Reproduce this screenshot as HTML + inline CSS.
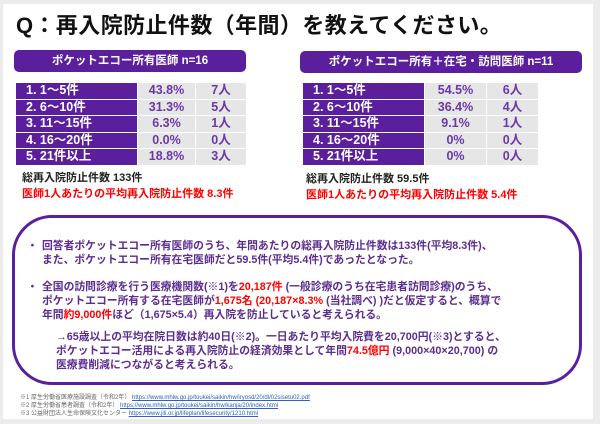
<!DOCTYPE html>
<html><head><meta charset="utf-8"><style>
*{margin:0;padding:0;box-sizing:border-box}
body{width:600px;height:424px;background:#ececec;position:relative;overflow:hidden;font-family:"Liberation Sans","Noto Sans CJK JP",sans-serif}
.slide{position:absolute;left:3px;top:4px;width:590px;height:415px;background:#fff}
.a{position:absolute;white-space:nowrap}
.title{left:16px;top:8px;font-size:22px;letter-spacing:0.4px;font-weight:bold;color:#111}
.hdr{position:absolute;height:22px;background:#5b1f9e;border-radius:5px;color:#fff;font-weight:bold;font-size:11.5px;text-align:center;line-height:22px}
table{position:absolute;border-collapse:separate;border-spacing:1px;font-size:12.5px;font-weight:bold}
td{height:15.5px;line-height:15.5px;padding:0}
td.l{background:#5b1f9e;color:#fff;padding-left:10px}
td.g{background:#e6e6e6;color:#6a3aa8;text-align:center}
.s{font-size:11px;font-weight:bold;color:#222}
.r{color:#f00}
.box{position:absolute;left:12px;top:215px;width:570px;height:170px;border:3px solid #5b1f9e;border-radius:40px}
.t{font-size:10.8px;font-weight:bold;color:#5b2d90}
.red{color:#f00}
.f{font-size:6px;color:#666}
.f span{color:#3060c0;text-decoration:underline}
</style></head><body>
<div class="slide"></div>
<div class="a title">Q：再入院防止件数（年間）を教えてください。</div>
<div class="hdr" style="left:14px;top:50px;width:232px">ポケットエコー所有医師 n=16</div>
<table style="left:15px;top:82px;width:232px">
<tr><td class="l" style="width:121px">1. 1～5件</td><td class="g" style="width:57px">43.8%</td><td class="g">7人</td></tr>
<tr><td class="l">2. 6～10件</td><td class="g">31.3%</td><td class="g">5人</td></tr>
<tr><td class="l">3. 11～15件</td><td class="g">6.3%</td><td class="g">1人</td></tr>
<tr><td class="l">4. 16～20件</td><td class="g">0.0%</td><td class="g">0人</td></tr>
<tr><td class="l">5. 21件以上</td><td class="g">18.8%</td><td class="g">3人</td></tr>
</table>
<div class="a s" style="left:22px;top:169px">総再入院防止件数 133件</div>
<div class="a s r" style="left:22px;top:185px">医師1人あたりの平均再入院防止件数 8.3件</div>
<div class="hdr" style="left:300px;top:51px;width:282px">ポケットエコー所有＋在宅・訪問医師 n=11</div>
<table style="left:302px;top:82px;width:237px">
<tr><td class="l" style="width:121px">1. 1～5件</td><td class="g" style="width:61px">54.5%</td><td class="g">6人</td></tr>
<tr><td class="l">2. 6～10件</td><td class="g">36.4%</td><td class="g">4人</td></tr>
<tr><td class="l">3. 11～15件</td><td class="g">9.1%</td><td class="g">1人</td></tr>
<tr><td class="l">4. 16～20件</td><td class="g">0%</td><td class="g">0人</td></tr>
<tr><td class="l">5. 21件以上</td><td class="g">0%</td><td class="g">0人</td></tr>
</table>
<div class="a s" style="left:306px;top:170px">総再入院防止件数 59.5件</div>
<div class="a s r" style="left:306px;top:186px">医師1人あたりの平均再入院防止件数 5.4件</div>
<div class="box"></div>
<div class="a t" style="left:27px;top:237px">・</div>
<div class="a t" style="left:42px;top:237px">回答者ポケットエコー所有医師のうち、年間あたりの総再入院防止件数は133件(平均8.3件)、</div>
<div class="a t" style="left:42px;top:251px">また、ポケットエコー所有在宅医師だと59.5件(平均5.4件)であったとなった。</div>
<div class="a t" style="left:27px;top:278px">・</div>
<div class="a t" style="left:42px;top:278px">全国の訪問診療を行う医療機関数(※1)を<span class="red">20,187件</span> (一般診療のうち在宅患者訪問診療)のうち、</div>
<div class="a t" style="left:42px;top:292px">ポケットエコー所有する在宅医師が<span class="red">1,675名 (20,187×8.3%</span> (当社調べ) )だと仮定すると、概算で</div>
<div class="a t" style="left:42px;top:306px">年間<span class="red">約9,000件</span>ほど（1,675×5.4）再入院を防止していると考えられる。</div>
<div class="a t" style="left:56px;top:328px">→65歳以上の平均在院日数は約40日(※2)。一日あたり平均入院費を20,700円(※3)とすると、</div>
<div class="a t" style="left:56px;top:342px">ポケットエコー活用による再入院防止の経済効果として年間<span class="red">74.5億円</span> (9,000×40×20,700) の</div>
<div class="a t" style="left:56px;top:356px">医療費削減につながると考えられる。</div>
<div class="a f" style="left:20px;top:392px">※1 厚生労働省医療施設調査（令和2年） <span>https://www.mhlw.go.jp/toukei/saikin/hw/iryosd/20/dl/02sisetu02.pdf</span></div>
<div class="a f" style="left:20px;top:400px">※2 厚生労働省患者調査（令和2年） <span>https://www.mhlw.go.jp/toukei/saikin/hw/kanja/20/index.html</span></div>
<div class="a f" style="left:20px;top:408px">※3 公益財団法人生命保険文化センター <span>https://www.jili.or.jp/lifeplan/lifesecurity/1210.html</span></div>
</body></html>
